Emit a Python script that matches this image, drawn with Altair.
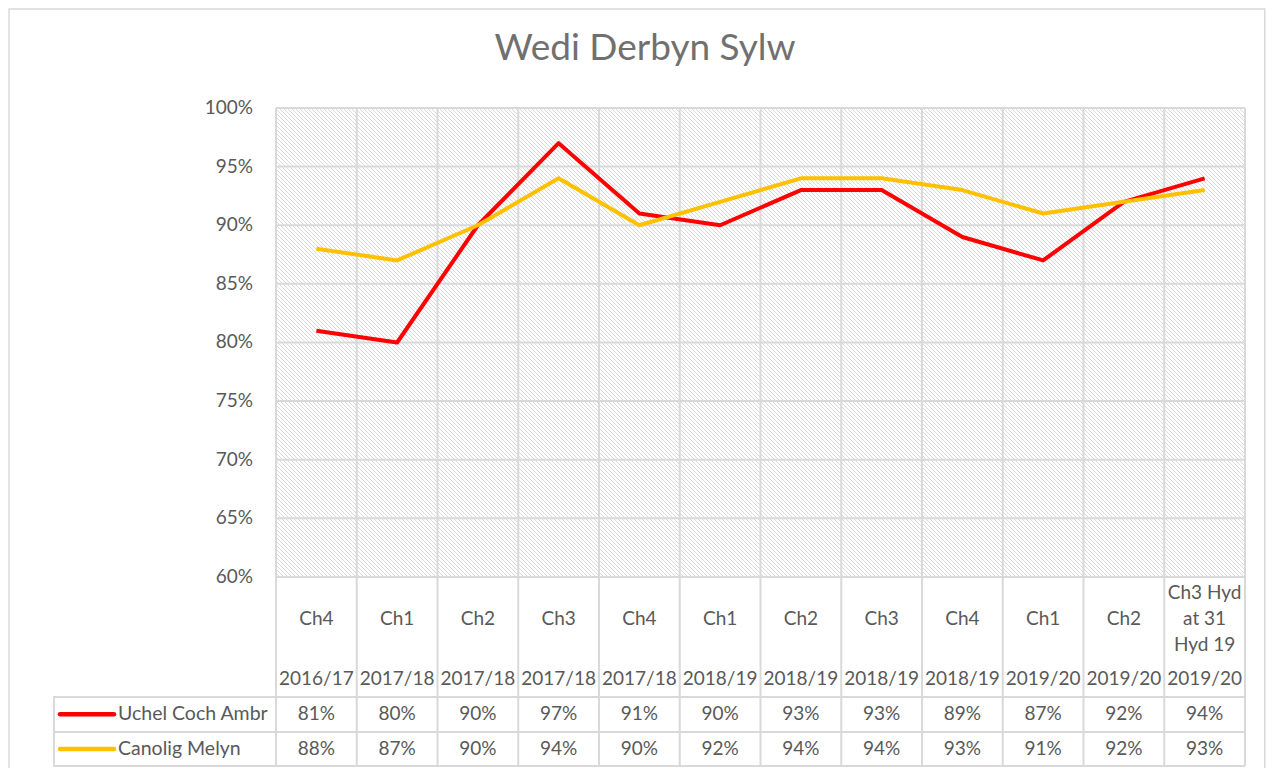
import altair as alt
import pandas as pd
import numpy as np

# ---------------- data ----------------
quarters = ["Ch4", "Ch1", "Ch2", "Ch3", "Ch4", "Ch1", "Ch2", "Ch3", "Ch4", "Ch1", "Ch2",
            "Ch3 Hyd\nat 31\nHyd 19"]
years = ["2016/17", "2017/18", "2017/18", "2017/18", "2017/18", "2018/19", "2018/19",
         "2018/19", "2018/19", "2019/20", "2019/20", "2019/20"]
uchel = [81, 80, 90, 97, 91, 90, 93, 93, 89, 87, 92, 94]
canolig = [88, 87, 90, 94, 90, 92, 94, 94, 93, 91, 92, 93]
series_names = ["Uchel Coch Ambr", "Canolig Melyn"]
series_colors = ["#FF0000", "#FFC000"]
y_ticks = [60, 65, 70, 75, 80, 85, 90, 95, 100]
title_text = "Wedi Derbyn Sylw"

# ---------------- layout (scale units) ----------------
N = len(quarters)
W, H = 1192, 658
PX_X = 80.75          # pixels per category unit
PX_Y = 11.725         # pixels per percent unit
X_MIN = -2.7616
Y_TOP, Y_BOT = 100, 60
HDR_BOT, ROW1_BOT, TBL_BOT = 49.77, 46.78, 43.88
ROW_CENTERS = [48.30, 45.33]
Q_Y, YR_Y = 56.42, 51.30
LINE_H = 26
LEG_X0, LEG_X1, LEG_TXT = -2.675, -2.006, -1.957
TITLE_X, TITLE_Y = 4.57, 104.09
FRAME = [-3.306, 12.245, 108.44, 42.5]
FONT = "Lato"
FS = 19
TXT = "#595959"
GRID = "#d9d9d9"

xs = alt.Scale(domain=[X_MIN, N], nice=False, zero=False)
ys = alt.Scale(domain=[TBL_BOT, Y_TOP], nice=False, zero=False)

def X(f):
    return alt.X(f, type="quantitative", scale=xs, axis=None)

def Y(f):
    return alt.Y(f, type="quantitative", scale=ys, axis=None)

# outer frame of the chart
frame_df = pd.DataFrame({"fx": [FRAME[0]], "fx2": [FRAME[1]], "fy": [FRAME[2]], "fy2": [FRAME[3]]})
frame = alt.Chart(frame_df).mark_rect(fill="white", stroke=GRID, strokeWidth=1.5).encode(
    x=X("fx"), x2="fx2", y=Y("fy"), y2="fy2")

# hatch texture of the plot area
PW, PH = N * PX_X, (Y_TOP - Y_BOT) * PX_Y
hrows = []
for c in np.arange(-PH, PW, 4.0):
    x0 = max(c, 0.0); y0 = x0 - c
    x1 = min(c + PH, PW); y1 = x1 - c
    hrows.append({"hx": x0 / PX_X, "hy": Y_TOP - y0 / PX_Y,
                  "hx2": x1 / PX_X, "hy2": Y_TOP - y1 / PX_Y})
hatch_df = pd.DataFrame(hrows)
hatch = alt.Chart(hatch_df).mark_rule(color="#dadada", strokeWidth=1.0).encode(
    x=X("hx"), y=Y("hy"), x2="hx2", y2="hy2")

# title
title_df = pd.DataFrame({"t": [title_text], "tx": [TITLE_X], "ty": [TITLE_Y]})
title = alt.Chart(title_df).mark_text(align="center", baseline="alphabetic", font=FONT,
                                      fontSize=37, fontWeight=400, color="#707070").encode(
    x=X("tx"), y=Y("ty"), text="t:N")

# grid lines
hgrid_df = pd.DataFrame({"gy": y_ticks, "gx": [0] * len(y_ticks), "gx2": [N] * len(y_ticks)})
hgrid = alt.Chart(hgrid_df).mark_rule(color=GRID, strokeWidth=2).encode(
    x=X("gx"), x2="gx2", y=Y("gy"))
vgrid_df = pd.DataFrame({"gx": list(range(N + 1)), "gy": [Y_TOP] * (N + 1),
                         "gy2": [TBL_BOT] * (N + 1)})
vgrid = alt.Chart(vgrid_df).mark_rule(color=GRID, strokeWidth=2).encode(
    x=X("gx"), y=Y("gy"), y2="gy2")
tl_df = pd.DataFrame({"gy": [HDR_BOT, ROW1_BOT, TBL_BOT], "gx": [X_MIN] * 3, "gx2": [N] * 3})
tlines = alt.Chart(tl_df).mark_rule(color=GRID, strokeWidth=2).encode(
    x=X("gx"), x2="gx2", y=Y("gy"))
tl2_df = pd.DataFrame({"gx": [X_MIN + 0.012], "gy": [HDR_BOT], "gy2": [TBL_BOT]})
tleft = alt.Chart(tl2_df).mark_rule(color=GRID, strokeWidth=2).encode(
    x=X("gx"), y=Y("gy"), y2="gy2")

# y labels
ylab_df = pd.DataFrame({"v": y_ticks, "lbl": [f"{v}%" for v in y_ticks], "lx": [0] * len(y_ticks)})
ylabels = alt.Chart(ylab_df).mark_text(align="right", baseline="middle", dx=-23,
                                       font=FONT, fontSize=FS, color=TXT).encode(
    x=X("lx"), y=Y("v"), text="lbl:N")

# lines
rows = []
for s, vals in zip(series_names, [uchel, canolig]):
    for i, v in enumerate(vals):
        rows.append({"series": s, "i": i + 0.5, "v": v, "txt": f"{v}%"})
line_df = pd.DataFrame(rows)
color = alt.Color("series:N", scale=alt.Scale(domain=series_names, range=series_colors),
                  legend=None)
lines = alt.Chart(line_df).mark_line(strokeWidth=4, strokeJoin="round").encode(
    x=X("i"), y=Y("v"), color=color, order="i:Q")

# table header
nlines = [q.count("\n") + 1 for q in quarters]
hdr_df = pd.DataFrame({"i": [k + 0.5 for k in range(N)], "q": quarters, "yr": years,
                       "qy": [Q_Y + (n - 1) / 2 * LINE_H / PX_Y for n in nlines],
                       "yy": [YR_Y] * N})
hdr_q = alt.Chart(hdr_df).mark_text(baseline="middle", align="center", lineBreak="\n",
                                    lineHeight=LINE_H, font=FONT, fontSize=FS, color=TXT).encode(
    x=X("i"), y=Y("qy"), text="q:N")
hdr_y = alt.Chart(hdr_df).mark_text(baseline="middle", align="center",
                                    font=FONT, fontSize=FS, color=TXT).encode(
    x=X("i"), y=Y("yy"), text="yr:N")

# table values
row_y = dict(zip(series_names, ROW_CENTERS))
line_df["ty"] = line_df["series"].map(row_y)
tvals = alt.Chart(line_df).mark_text(baseline="middle", align="center",
                                     font=FONT, fontSize=FS, color=TXT).encode(
    x=X("i"), y=Y("ty"), text="txt:N")

# legend keys in the table
leg_df = pd.DataFrame({"series": series_names, "x0": [LEG_X0] * 2, "x1": [LEG_X1] * 2,
                       "tx": [LEG_TXT] * 2, "ty": ROW_CENTERS})
legkeys = alt.Chart(leg_df).mark_rule(strokeWidth=4.5, strokeCap="round").encode(
    x=X("x0"), x2="x1", y=Y("ty"), color=color)
legtext = alt.Chart(leg_df).mark_text(align="left", baseline="middle",
                                      font=FONT, fontSize=19.5, color=TXT).encode(
    x=X("tx"), y=Y("ty"), text="series:N")

chart = alt.layer(frame, hatch, hgrid, vgrid, tlines, tleft, title, ylabels, lines,
                  hdr_q, hdr_y, tvals, legkeys, legtext).properties(
    width=W, height=H,
    autosize=alt.AutoSizeParams(type="none"),
    padding={"left": 45, "top": 100, "right": 21, "bottom": 2},
    background="white",
).configure_view(stroke=None)

chart.save("out.html", embed_options={"renderer": "svg", "actions": False})
